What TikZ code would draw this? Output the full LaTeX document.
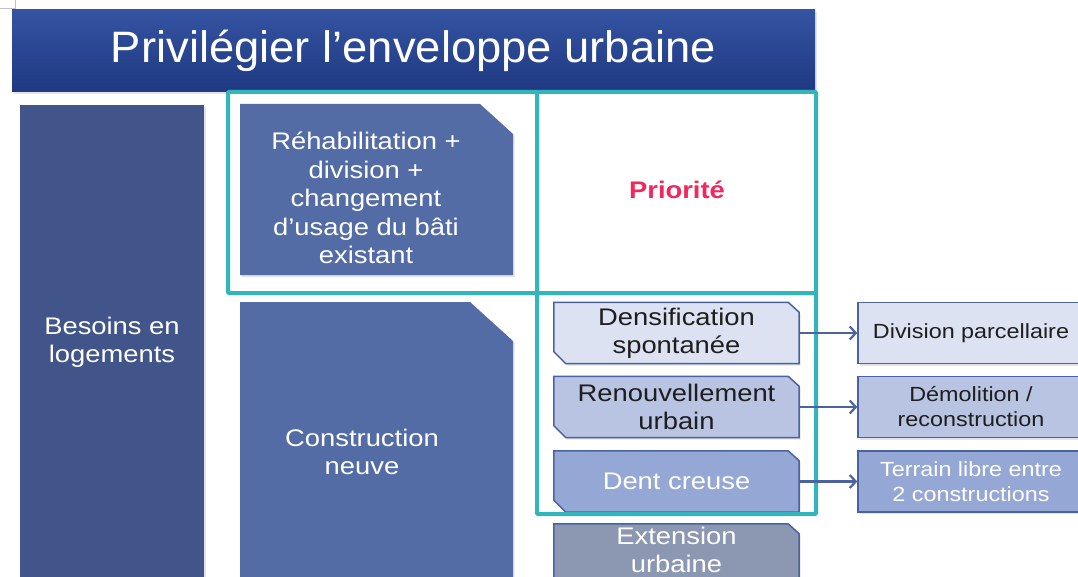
\documentclass[tikz,border=0pt]{standalone}
\usepackage{fontspec}
\setmainfont{Liberation Sans}[FakeStretch=1.14]
\newfontfamily\titlefont{Liberation Sans}
\usetikzlibrary{arrows.meta,calc,backgrounds,shadows}
\definecolor{titletop}{HTML}{3453A1}
\definecolor{titlebot}{HTML}{1F3982}
\definecolor{besoinsc}{HTML}{41558A}
\definecolor{midblue}{HTML}{536CA6}
\definecolor{tealc}{HTML}{33B5BC}
\definecolor{prioc}{HTML}{F2285D}
\definecolor{palec}{HTML}{DDE2F2}
\definecolor{lightc}{HTML}{B8C4E2}
\definecolor{mediumc}{HTML}{95A7D5}
\definecolor{greyblue}{HTML}{8C97B2}
\definecolor{edgec}{HTML}{4A63A0}
\definecolor{inkc}{HTML}{1E1E1E}
\newsavebox\titlebox
\newlength\titlew
\newcommand\snipTRBL[2]{%
  \path[fill=#2, draw=edgec, line width=1.5pt, softshadow]
    (#1.north west) -- ($(#1.north east)+(-11,0)$) -- ($(#1.north east)+(0,10)$)
    -- (#1.south east) -- ($(#1.south west)+(12,0)$) -- ($(#1.south west)+(0,-12)$) -- cycle;}
\begin{document}
\sbox\titlebox{\color{white}\titlefont\fontsize{44}{50}\selectfont Privilégier l’enveloppe urbaine}%
\setlength\titlew{\wd\titlebox}%
\begin{tikzpicture}[x=1pt,y=-1pt,
  softshadow/.style={drop shadow={opacity=0.22, shadow xshift=1.5pt, shadow yshift=-2pt}},
  bigtext/.style={text=white, font=\fontsize{24}{28.5}\selectfont, align=center, inner sep=0pt},
  smallbox/.style={font=\fontsize{24}{28}\selectfont, align=center, inner sep=0pt,
    minimum width=245pt, minimum height=61pt},
  rightbox/.style={font=\fontsize{20.5}{25}\selectfont, align=center, inner sep=0pt,
    minimum width=226pt, minimum height=61pt, draw=edgec, line width=1.5pt, softshadow},
  frame/.style={draw=tealc, line width=4pt, rounded corners=1pt},
  arr/.style={draw=edgec, line width=2.2pt, -{Straight Barb[length=6pt,width=13pt]}}]
\useasboundingbox (0,0) rectangle (1078,577);
\begin{scope}[on background layer]
\fill[white] (0,0) rectangle (1078,577);
\end{scope}
\draw[black!25, line width=0.8pt] (15,0) -- (15,8) -- (0,8);
% title
\pgfmathsetmacro\tsx{605/\titlew}
\node[minimum width=803pt, minimum height=82pt, inner sep=0pt, top color=titletop,
  bottom color=titlebot, text=white, softshadow] (title) at (413.5,51)
  {\scalebox{\tsx}[1]{\usebox\titlebox}};
% left column
\node[bigtext, fill=besoinsc, minimum width=184pt, minimum height=475pt, softshadow]
  (besoins) at (112,342.5) {Besoins en\\logements};
% big snipped boxes
\path[fill=midblue, softshadow] (240,104) -- (480,104) -- (513,134) -- (513,275) -- (240,275) -- cycle;
\node[bigtext] (rehab) at (366,198) {Réhabilitation +\\division +\\changement\\d’usage du bâti\\existant};
\path[fill=midblue, softshadow] (240,302) -- (470,302) -- (513,341) -- (513,590) -- (240,590) -- cycle;
\node[bigtext] (neuve) at (362,452) {Construction\\neuve};
% priority
\node[text=prioc, font=\bfseries\fontsize{24}{28}\selectfont, inner sep=0pt] (prio) at (677,190) {Priorité};
% small boxes
\node[smallbox, text=inkc] (dens) at (676.5,333) {Densification\\spontanée};
\node[smallbox, text=inkc] (renouv) at (676.5,407) {Renouvellement\\urbain};
\node[smallbox, text=white] (dent) at (676.5,481.5) {Dent creuse};
\node[smallbox, text=white, minimum height=52pt] (ext) at (676.5,550) {Extension\\urbaine};
\begin{scope}[on background layer]
\snipTRBL{dens}{palec}
\snipTRBL{renouv}{lightc}
\snipTRBL{dent}{mediumc}
\path[fill=greyblue, draw=edgec, line width=1.5pt, softshadow]
  (ext.north west) -- ($(ext.north east)+(-11,0)$) -- ($(ext.north east)+(0,10)$)
  -- ($(ext.south east)+(0,30)$) -- ($(ext.south west)+(0,30)$) -- cycle;
\end{scope}
% right boxes
\node[rightbox, fill=palec, text=inkc] (div) at (971,333) {Division parcellaire};
\node[rightbox, fill=lightc, text=inkc] (demol) at (971,407) {Démolition /\\reconstruction};
\node[rightbox, fill=mediumc, text=white] (terrain) at (971,481.5) {Terrain libre entre\\2 constructions};
% teal frames
\draw[frame] (228,92) rectangle (537,293);
\draw[frame] (537,92) rectangle (816,293);
\draw[frame] (537,293) rectangle (816,514);
% arrows
\draw[arr] (dens.east) -- (div.west);
\draw[arr] (renouv.east) -- (demol.west);
\draw[arr] (dent.east) -- (terrain.west);
\end{tikzpicture}
\end{document}
